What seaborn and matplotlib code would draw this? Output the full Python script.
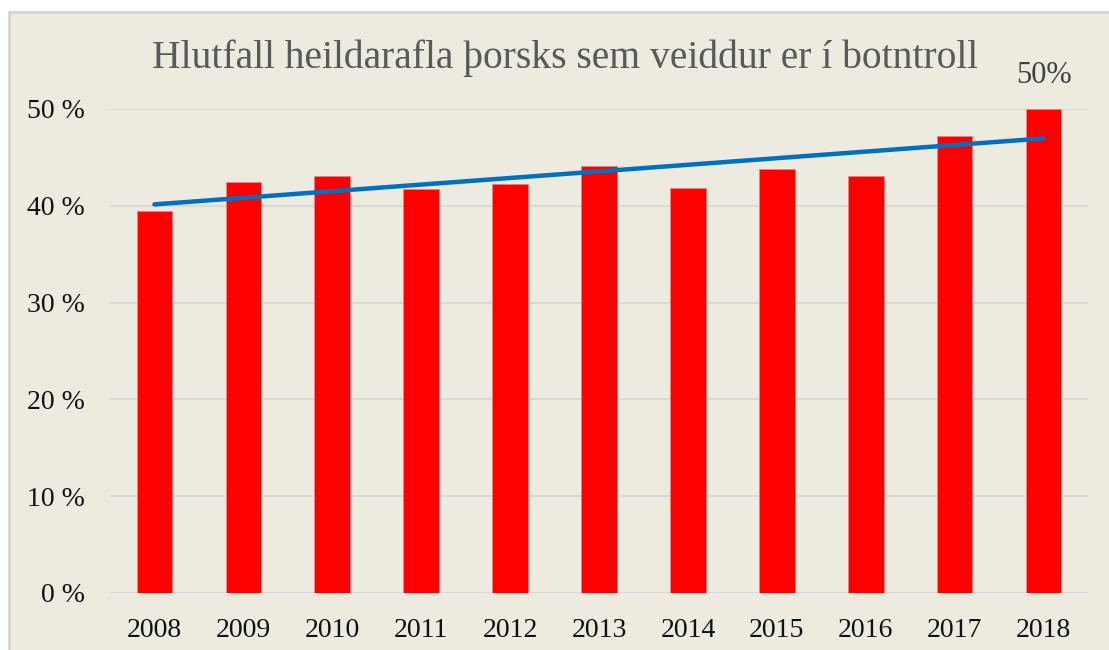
import numpy as np
import pandas as pd
import matplotlib.pyplot as plt
import seaborn as sns
from matplotlib.patches import Rectangle

# Gögn lesin af myndinni
years = ["2008", "2009", "2010", "2011", "2012", "2013",
         "2014", "2015", "2016", "2017", "2018"]
share = [39.5, 42.5, 43.1, 41.7, 42.3, 44.1, 41.8, 43.8, 43.1, 47.2, 50.0]
yticks = [0, 10, 20, 30, 40, 50]
ytick_labels = ["0 %", "10 %", "20 %", "30 %", "40 %", "50 %"]
last_label = "50%"
title = "Hlutfall heildarafla þorsks sem veiddur er í botntroll"

BG = "#EDEAE0"
FONT = ["Liberation Serif", "DejaVu Serif"]


def main():
    df = pd.DataFrame({"year": years, "share": share})

    sns.set_style("white")
    plt.rcParams["font.family"] = FONT

    fig = plt.figure(figsize=(11.09, 6.5), dpi=100)
    fig.patch.set_facecolor("white")
    # ljós rammi utan um myndina
    fig.patches.append(Rectangle((9 / 1109, -0.01), 1.02, 1 - 12 / 650 + 0.01,
                                 transform=fig.transFigure, facecolor=BG,
                                 edgecolor="#D4D4D4", linewidth=2, zorder=-5))

    ax = fig.add_axes([110 / 1109, 1 - 593 / 650, (1088 - 110) / 1109, (593 - 109) / 650])
    ax.set_facecolor("none")

    sns.barplot(data=df, x="year", y="share", color="#FF0000", width=0.4,
                edgecolor="#F08080", linewidth=0.6, saturation=1, ax=ax, zorder=3)

    # línuleg leitni
    sns.regplot(x=np.arange(len(years)), y=np.array(share), scatter=False, ci=None,
                ax=ax, line_kws={"color": "#0070C0", "linewidth": 3.2,
                                 "solid_capstyle": "round", "zorder": 4})

    ax.set_xlim(-0.5, len(years) - 0.5)
    ax.set_ylim(0, 50)
    ax.set_yticks(yticks)
    ax.set_yticklabels(ytick_labels)
    ax.set_xticks(range(len(years)))
    ax.set_xticklabels(years)
    ax.yaxis.grid(True, color="#D9D9D9", linewidth=1.5, zorder=0)
    ax.set_axisbelow(True)
    for s in ax.spines.values():
        s.set_visible(False)
    ax.tick_params(axis="y", length=0, pad=18, labelsize=20, labelcolor="#111111")
    ax.tick_params(axis="x", length=0, pad=18, labelsize=20, labelcolor="#111111")
    ax.set_xlabel("")
    ax.set_ylabel("")

    ax.text(len(years) - 1, share[-1] + 2.0, last_label, ha="center", va="bottom",
            fontsize=22, color="#404040", clip_on=False)

    fig.text(565 / 1109, 1 - 58 / 650, title, ha="center", va="center",
             fontsize=28.5, color="#595959")

    fig.savefig("out.png", dpi=100, facecolor=fig.get_facecolor())


if __name__ == "__main__":
    main()
